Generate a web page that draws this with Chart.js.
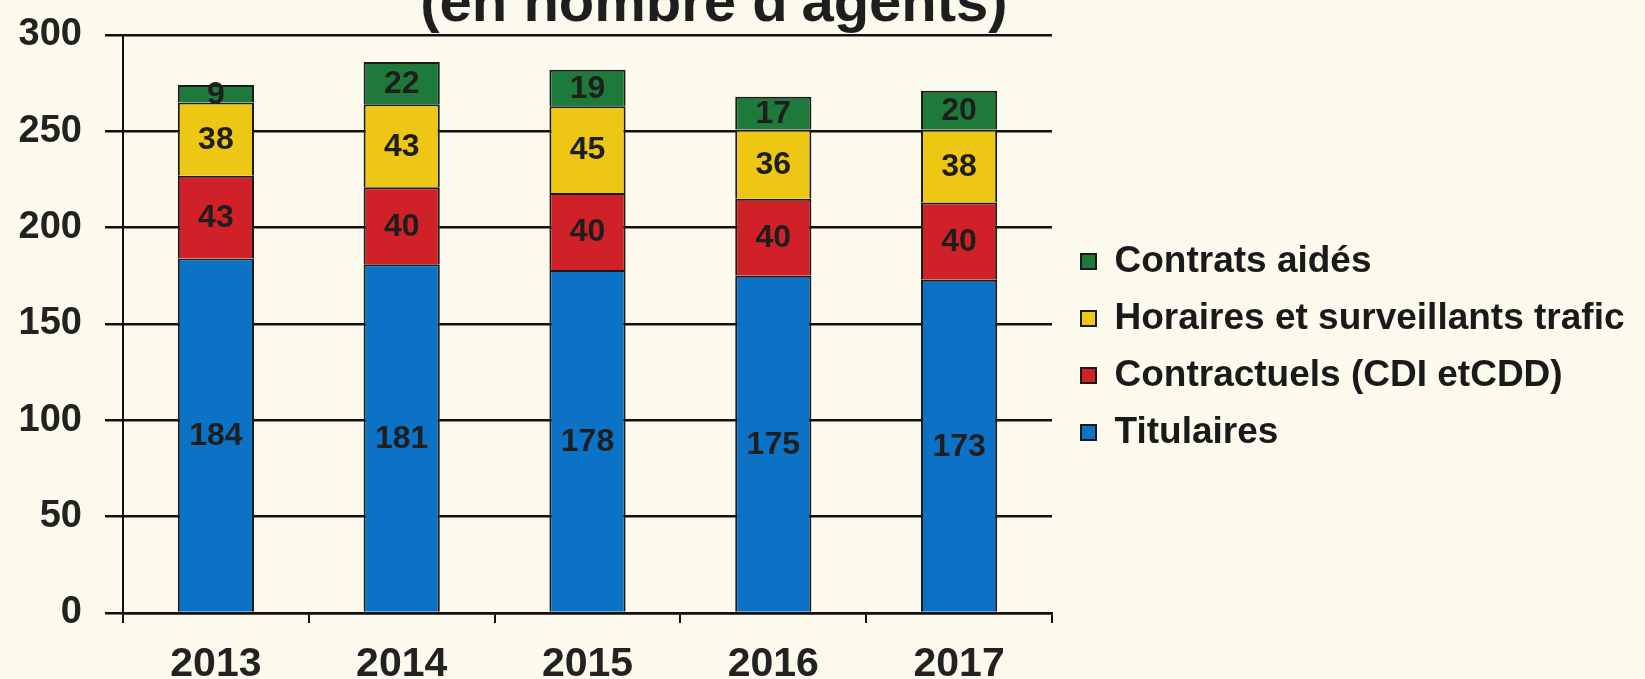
<!DOCTYPE html>
<html>
<head>
<meta charset="utf-8">
<script src="https://cdn.jsdelivr.net/npm/chart.js@4"></script>
<style>
	html, body { margin: 0; padding: 0; background: #fcfaec; }
	#wrap { position: relative; width: 1645px; height: 679px; overflow: hidden; }
	#titre {
		position: absolute; left: 714px; top: 30px;
		transform: translate(-50%, -100%);
		font: bold 58px "Liberation Sans", Arial, sans-serif;
		line-height: 1; color: #1e1e1e; white-space: nowrap;
	}
</style>
</head>
<body>
<div id="wrap">
	<canvas id="effectifs"></canvas>
	<div id="titre">(en nombre d'agents)</div>
</div>
<script>
let annees = ["2013", "2014", "2015", "2016", "2017"];
let titulaires = [184, 181, 178, 175, 173];
let contractuels = [43, 40, 40, 40, 40];
let horaires = [38, 43, 45, 36, 38];
let contratsAides = [9, 22, 19, 17, 20];
let ticksY = [0, 50, 100, 150, 200, 250, 300];

let police = "'Liberation Sans', Arial, sans-serif";

// valeurs au milieu de chaque segment
let etiquettes = {
	id: "etiquettes",
	afterDatasetsDraw(chart) {
		let ctx = chart.ctx;
		ctx.save();
		ctx.font = "bold 32px " + police;
		ctx.fillStyle = "#1e1e1e";
		ctx.textAlign = "center";
		ctx.textBaseline = "middle";
		chart.data.datasets.forEach((ds, i) => {
			let meta = chart.getDatasetMeta(i);
			meta.data.forEach((bar, j) => {
				let p = bar.getProps(["x", "y", "base"], true);
				ctx.fillText(ds.data[j], p.x, (p.y + p.base) / 2 + 1);
			});
		});
		ctx.restore();
	}
};

// legende : largeur fixe et petit decalage
let legendeLarge = {
	id: "legendeLarge",
	beforeInit(chart) {
		let fit = chart.legend.fit;
		chart.legend.fit = function() {
			fit.bind(chart.legend)();
			this.width = 593;
		};
	},
	afterLayout(chart) {
		chart.legend.left += 9;
		chart.legend.top -= 10;
		chart.legend.bottom -= 10;
	}
};

function serie(label, data, couleur) {
	return {
		label: label,
		data: data,
		backgroundColor: couleur,
		borderColor: "#1a1a1a",
		borderWidth: 2,
		barPercentage: 0.41,
		categoryPercentage: 1
	};
}

let graf = new Chart("effectifs", {
	type: "bar",
	data: {
		labels: annees,
		datasets: [
			serie("Titulaires", titulaires, "#0b72c6"),
			serie("Contractuels (CDI etCDD)", contractuels, "#d02128"),
			serie("Horaires et surveillants trafic", horaires, "#eec614"),
			serie("Contrats aidés", contratsAides, "#1d7a3a")
		]
	},
	options: {
		responsive: true,
		maintainAspectRatio: false,
		animation: false,
		layout: { padding: { top: 35, right: 0, left: 0, bottom: 0 } },
		plugins: {
			legend: {
				position: "right",
				reverse: true,
				labels: {
					font: { family: police, size: 37, weight: "bold" },
					color: "#1a1a1a",
					boxWidth: 15,
					boxHeight: 15,
					padding: 20
				}
			},
			tooltip: { enabled: false }
		},
		scales: {
			x: {
				stacked: true,
				grid: { drawOnChartArea: false, drawTicks: true, tickLength: 10, color: "#111", lineWidth: 2 },
				border: { display: true, color: "#111", width: 2.5 },
				ticks: { font: { family: police, size: 41, weight: "bold" }, color: "#222", padding: 17 },
				afterFit(s) { s.height = 66; }
			},
			y: {
				stacked: true,
				min: 0,
				max: 300,
				afterBuildTicks(s) { s.ticks = ticksY.map(v => ({ value: v })); },
				grid: { color: "#111", lineWidth: 2.5, tickLength: 18 },
				border: { display: true, color: "#111", width: 2 },
				ticks: { font: { family: police, size: 38, weight: "bold" }, color: "#222", padding: 23 },
				afterFit(s) { s.width = 123; s.paddingTop = 0; s.paddingBottom = 0; }
			}
		}
	},
	plugins: [etiquettes, legendeLarge]
});
</script>
</body>
</html>
